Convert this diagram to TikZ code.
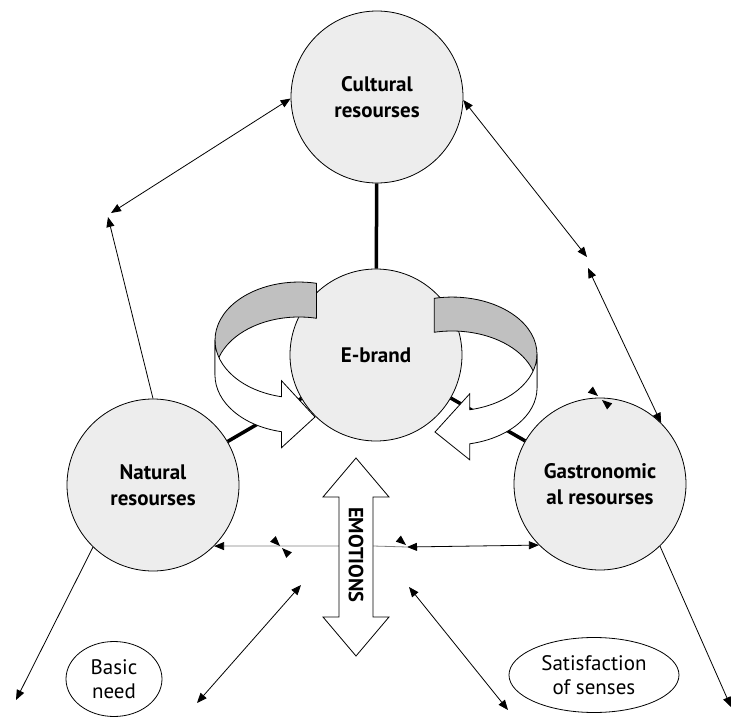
\documentclass[tikz,border=0pt]{standalone}
\usepackage{fontspec}
\setmainfont{PT Sans}
\usetikzlibrary{arrows.meta,shapes.geometric}

\definecolor{circlegray}{HTML}{EDEDED}
\definecolor{bandgray}{HTML}{C0C0C0}
\definecolor{linegray}{HTML}{808080}

\begin{document}
\begin{tikzpicture}[x=1pt,y=1pt,
        resource/.style={circle, draw, line width=0.8pt, fill=circlegray, minimum size=172pt,
            inner sep=0pt, align=center, font=\fontsize{21}{26}\selectfont\bfseries},
        oval/.style={ellipse, draw, line width=0.8pt, inner sep=0pt, align=center,
            font=\fontsize{21}{24}\selectfont},
        link/.style={line width=3.5pt},
        ribbon/.style={draw, line width=0.8pt},
        rel/.style={line width=0.8pt, -{Triangle[length=10pt,width=8pt]}},
        rel2/.style={line width=0.8pt, {Triangle[length=10pt,width=8pt]}-{Triangle[length=10pt,width=8pt]}},
        tiphead/.pic={\fill (0,0) -- (-10,4) -- (-10,-4) -- cycle;}]
        \useasboundingbox (0,0) rectangle (732,-717);

        % the four resources
        \node[resource] (cult) at (377,-97) {Cultural\\resourses};
        \node[resource] (ebrand) at (376,-355) {E-brand};
        \node[resource] (nat) at (153,-485) {Natural\\resourses};
        \node[resource] (gast) at (600,-484) {Gastronomic\\al resourses};

        \draw[link] (cult) -- (ebrand);
        \draw[link] (nat) -- (ebrand);
        \draw[link] (ebrand) -- (gast);

        % left curved arrow
        \filldraw[ribbon, fill=bandgray] (316.5,-283.3) arc[start angle=78, end angle=180, x radius=84, y radius=58]
            -- (215,-375) arc[start angle=180, end angle=78, x radius=84, y radius=58] -- cycle;
        \filldraw[ribbon, fill=white] (215,-340) arc[start angle=180, end angle=258, x radius=84, y radius=58]
            -- (281.5,-380.7) -- (315,-417) -- (281.5,-447.7) -- (281.5,-431.7)
            arc[start angle=258, end angle=180, x radius=84, y radius=58] -- cycle;

        % right curved arrow
        \filldraw[ribbon, fill=bandgray] (434.3,-298.3) arc[start angle=102, end angle=0, x radius=85, y radius=57]
            -- (537,-388) arc[start angle=0, end angle=102, x radius=85, y radius=57] -- cycle;
        \filldraw[ribbon, fill=white] (537,-354) arc[start angle=0, end angle=-78, x radius=85, y radius=57]
            -- (469.7,-393.8) -- (435,-432) -- (469.7,-459.8) -- (469.7,-443.8)
            arc[start angle=-78, end angle=0, x radius=85, y radius=57] -- cycle;

        % emotions
        \coordinate (shL) at (339,-546);
        \coordinate (shR) at (373,-546);
        \coordinate (midR) at (407,-547);
        \draw[line width=0.8pt, draw=linegray, -{Triangle[length=10pt,width=8pt,color=black]}] (shL) -- (nat.-45);
        \draw[line width=0.8pt, draw=linegray] (shR) -- (midR);
        \draw[rel2] (midR) -- (gast.225);
        \draw[line width=0.8pt, fill=white] (356,-458) -- (389,-497) -- (373,-497) -- (373,-617) -- (389,-617)
            -- (356,-656) -- (323,-617) -- (339,-617) -- (339,-497) -- (323,-497) -- cycle;
        \node[rotate=-90, font=\fontsize{20.5}{20.5}\selectfont\bfseries] (emo) at (356,-555) {EMOTIONS};

        \pic[rotate=-45] at (280,-546) {tiphead};
        \pic[rotate=135] at (282,-548) {tiphead};
        \pic[rotate=-40] at (406,-545) {tiphead};
        \pic[rotate=-40] at (598,-396) {tiphead};
        \pic[rotate=140] at (602,-400) {tiphead};

        % outer arrows
        \coordinate (cl) at (111,-213);
        \coordinate (nl) at (108,-217);
        \coordinate (cr) at (587,-257);
        \coordinate (gr) at (588,-268);
        \coordinate (bl) at (16,-700);
        \coordinate (br) at (731,-707);
        \coordinate (ml1) at (197,-703);
        \coordinate (ml2) at (301,-585);
        \coordinate (mr1) at (409,-587);
        \coordinate (mr2) at (508,-710);
        \draw[rel2] (cult.181) -- (cl);
        \draw[rel] (nat.north) -- (nl);
        \draw[rel2] (cult.-2) -- (cr);
        \draw[rel2] (gr) -- (gast.45);
        \draw[rel] (nat.226) -- (bl);
        \draw[rel] (gast.-46) -- (br);
        \draw[rel2] (ml1) -- (ml2);
        \draw[rel2] (mr1) -- (mr2);

        \node[oval, minimum width=96pt, minimum height=75pt] (basic) at (114,-679) {Basic\\need};
        \node[oval, minimum width=170pt, minimum height=75pt] (senses) at (594,-675) {Satisfaction\\of senses};
    \end{tikzpicture}
\end{document}
